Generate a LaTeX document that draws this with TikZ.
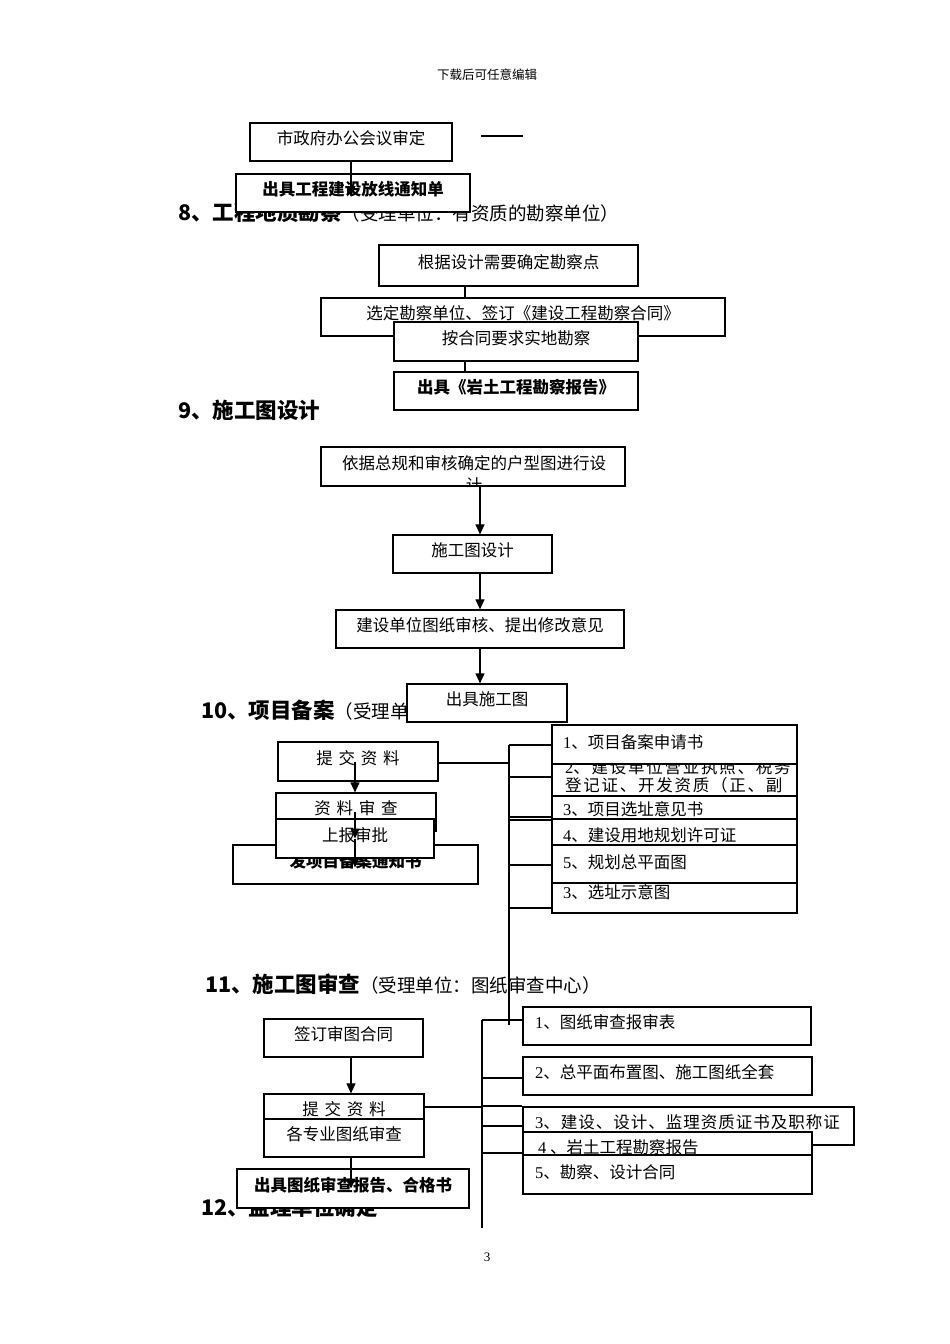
\documentclass[tikz,border=0pt]{standalone}
\usepackage{fontspec}
\setmainfont{Noto Sans CJK SC}
\newfontfamily\latserif{Liberation Serif}
\usetikzlibrary{arrows.meta}
\newcommand\boxfont{\fontsize{16.5}{18}\selectfont}
\newcommand\headfont{\fontsize{21.5}{24}\selectfont\bfseries}
\newcommand\notefont{\fontsize{18.5}{20}\selectfont}
\newcommand\num[1]{{\latserif #1}}
\newcommand\gap{\hspace{5.8pt}}
\newcommand\wide{\addfontfeature{LetterSpace=10.6}}

\begin{document}
\begin{tikzpicture}[x=1pt,y=-1pt,
  box/.style={draw,fill=white,line width=1.2pt,inner sep=0pt,text height=11pt,text depth=6pt,font=\boxfont},
  bbox/.style={box,font=\boxfont\bfseries},
  txt/.style={font=\boxfont,inner sep=0pt,anchor=base west},
  lnk/.style={line width=1.1pt},
  arr/.style={lnk,-{Triangle[length=10pt,width=9pt]}},
  head/.style={anchor=west,inner sep=0pt}]
\fill[white] (0,0) rectangle (950,1344);
\useasboundingbox (0,0) rectangle (950,1344);
\node (hdr) at (487,75) {\fontsize{12.5}{14}\selectfont 下载后可任意编辑};

\node[box,minimum width=202pt,minimum height=38pt] (sf) at (351,142) {市政府办公会议审定};
\draw[lnk] (481,136) -- (523,136);
\node[head] (h8) at (178,212) {{\headfont 8、工程地质勘察}{\notefont （受理单位：有资质的勘察单位）}};
\node[bbox,minimum width=234pt,minimum height=38pt] (fz) at (353,193) {出具工程建设放线通知单};
\draw[arr,shorten >=-3pt] (sf.south) -- (sf.south |- fz.center);

\node[box,minimum width=259pt,minimum height=41pt] (gd) at (508.5,265.5) {根据设计需要确定勘察点};
\node[box,minimum width=404pt,minimum height=38pt] (xd) at (523,317) {选定勘察单位、签订《建设工程勘察合同》};
\node[box,minimum width=244pt,minimum height=39pt] (an) at (516,341.5) {按合同要求实地勘察};
\node[bbox,minimum width=244pt,minimum height=38pt] (cj) at (516,391) {出具《岩土工程勘察报告》};
\coordinate (c8) at (465,0);
\draw[lnk] (gd.south -| c8) -- (xd.north -| c8);
\draw[lnk] (an.south -| c8) -- (cj.north -| c8);

\node[head] (h9) at (178,410) {\headfont 9、施工图设计};
\node[box,minimum width=304pt,minimum height=39pt] (yj) at (473,466.5) {};
\begin{scope}
\clip (yj.south west) rectangle (yj.north east);
\node[txt,anchor=base] (yja) at (474,469) {依据总规和审核确定的户型图进行设};
\node[txt,anchor=base] (yjb) at (474,491) {计};
\end{scope}
\node[box,minimum width=159pt,minimum height=38pt] (sg) at (472.5,554) {施工图设计};
\node[box,minimum width=288pt,minimum height=38pt] (js) at (480,629) {建设单位图纸审核、提出修改意见};
\node[head] (h10) at (201,710) {{\headfont 10、项目备案}{\notefont （受理单位：}};
\node[box,minimum width=160pt,minimum height=38pt] (cs) at (487,703) {出具施工图};
\coordinate (c9) at (480,0);
\draw[arr] (yj.south -| c9) -- (sg.north -| c9);
\draw[arr] (sg.south -| c9) -- (js.north -| c9);
\draw[arr] (js.south -| c9) -- (cs.north -| c9);

\node[box,minimum width=160pt,minimum height=39pt] (tj) at (358,761.5) {提\gap 交\gap 资\gap 料};
\node[box,minimum width=160pt,minimum height=38pt] (zs) at (356,812) {资\gap 料\gap 审\gap 查};
\node[bbox,minimum width=245pt,minimum height=39pt] (fx) at (355.5,864.5) {发项目备案通知书};
\node[box,minimum width=158pt,minimum height=39pt] (sb) at (355,838.5) {上报审批};
\coordinate (c10) at (355,0);
\draw[arr] (tj -| c10) -- (zs.north -| c10);
\draw[arr] (zs -| c10) -- (sb -| c10);
\draw[arr,shorten >=-3pt] (sb -| c10) -- (fx -| c10);

\node[box,minimum width=245pt,minimum height=39pt] (r1) at (674.5,744.5) {};
\node[txt] (r1t) at (563,748) {\num{1}、项目备案申请书};
\node[box,minimum width=245pt,minimum height=32pt] (r2) at (674.5,780) {};
\begin{scope}
\clip (r2.south west) rectangle (r2.north east);
\node[txt] (r2a) at (565,773) {\wide\num{2}、建设单位营业执照、税务};
\node[txt] (r2b) at (565,791) {\wide 登记证、开发资质（正、副};
\end{scope}
\node[box,minimum width=245pt,minimum height=23pt] (r3) at (674.5,807.5) {};
\node[txt] (r3t) at (563,815) {\num{3}、项目选址意见书};
\node[box,minimum width=245pt,minimum height=26pt] (r4) at (674.5,832) {};
\node[txt] (r4t) at (563,841) {\num{4}、建设用地规划许可证};
\node[box,minimum width=245pt,minimum height=38pt] (r5) at (674.5,864) {};
\node[txt] (r5t) at (563,868) {\num{5}、规划总平面图};
\node[box,minimum width=245pt,minimum height=30pt] (r6) at (674.5,898) {};
\node[txt] (r6t) at (563,898) {\num{3}、选址示意图};

\node[head] (h11) at (205,984) {{\headfont 11、施工图审查}{\notefont （受理单位：图纸审查中心）}};
\coordinate (v10) at (509,745);
\coordinate (v10e) at (509,1025);
\draw[lnk] (tj.east |- 0,763) -- (v10 |- 0,763);
\draw[lnk] (v10) -- (v10e);
\foreach \y in {745,777,817,820,865,908}
  \draw[lnk] (v10 |- 0,\y) -- (r1.west |- 0,\y);

\node[box,minimum width=159pt,minimum height=38pt] (qd) at (343.5,1038) {签订审图合同};
\node[box,minimum width=160pt,minimum height=38pt] (tj2) at (344,1113) {提\gap 交\gap 资\gap 料};
\node[box,minimum width=160pt,minimum height=38pt] (gz) at (344,1138) {各专业图纸审查};
\node[head] (h12) at (201,1207) {\headfont 12、监理单位确定};
\node[bbox,minimum width=232pt,minimum height=39pt] (cjt) at (353,1188.5) {出具图纸审查报告、合格书};
\coordinate (c11) at (351,0);
\draw[arr] (qd.south -| c11) -- (tj2.north -| c11);
\draw[arr] (gz.south -| c11) -- (cjt -| c11);

\node[box,minimum width=288pt,minimum height=38pt] (s1) at (667,1026) {};
\node[txt] (s1t) at (535,1028) {\num{1}、图纸审查报审表};
\node[box,minimum width=289pt,minimum height=38pt] (s2) at (667.5,1076) {};
\node[txt] (s2t) at (535,1078) {\num{2}、总平面布置图、施工图纸全套};
\node[box,minimum width=331pt,minimum height=38pt] (s3) at (688.5,1126) {};
\node[txt] (s3t) at (535,1128) {\addfontfeature{LetterSpace=6}\num{3}、建设、设计、监理资质证书及职称证};
\node[box,minimum width=289pt,minimum height=23pt] (s4) at (667.5,1143.5) {};
\node[txt] (s4t) at (538,1153) {\num{4} 、岩土工程勘察报告};
\node[box,minimum width=289pt,minimum height=39pt] (s5) at (667.5,1174.5) {};
\node[txt] (s5t) at (535,1178) {\num{5}、勘察、设计合同};
\coordinate (v11) at (482,1020);
\coordinate (v11e) at (482,1228);
\draw[lnk] (tj2.east |- 0,1107) -- (v11 |- 0,1107);
\draw[lnk] (v11) -- (v11e);
\foreach \y in {1020,1078,1106,1126,1153}
  \draw[lnk] (v11 |- 0,\y) -- (s1.west |- 0,\y);

\node (pg) at (487,1257) {\latserif\fontsize{13}{15}\selectfont 3};
\end{tikzpicture}
\end{document}
